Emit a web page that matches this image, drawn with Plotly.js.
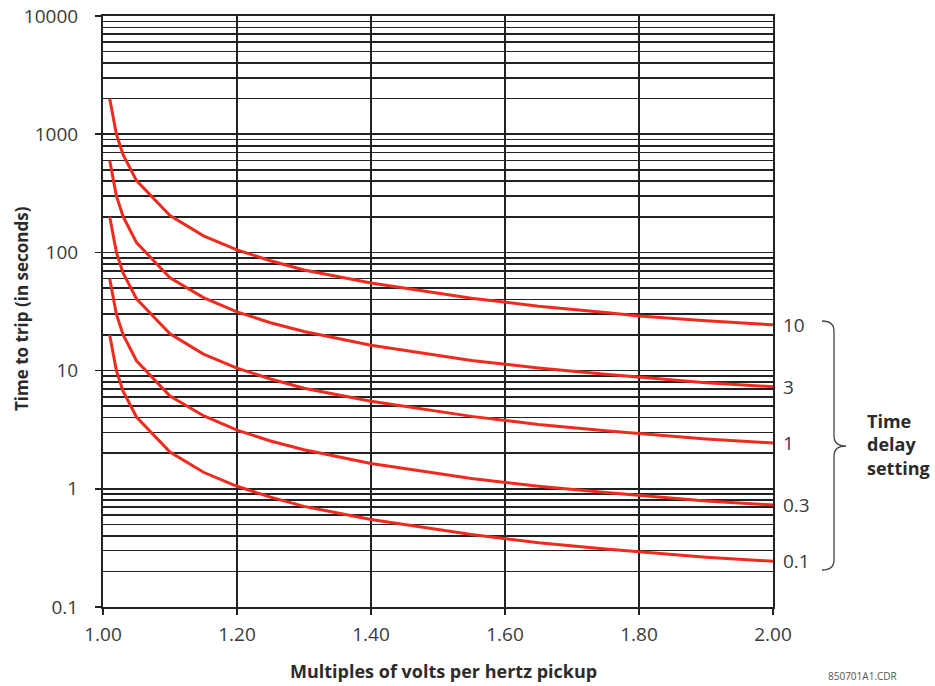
<!DOCTYPE html>
<html>
<head>
<meta charset="utf-8">
<script src="https://cdn.plot.ly/plotly-3.0.1.min.js"></script>
<style>html,body{margin:0;padding:0;background:#fff;}#chart{width:935px;height:686px;}</style>
</head>
<body>
<div id="chart"></div>
<script>
// ---- data ----
const multiples = [1.01, 1.02, 1.03, 1.05, 1.10, 1.15, 1.20, 1.25, 1.30, 1.40, 1.55, 1.60, 1.65, 1.75, 1.80, 1.90, 2.00];
const td10  = [2000, 1000, 670, 405, 205, 138, 105, 85, 71, 55, 41, 38, 35, 31, 29, 26.4, 24.4];
const td3   = [600, 300, 201, 121, 61, 41.5, 31.4, 25.4, 21.4, 16.4, 12.2, 11.3, 10.5, 9.3, 8.8, 7.9, 7.3];
const td1   = [200, 100, 67, 40.5, 20.5, 13.8, 10.5, 8.5, 7.1, 5.5, 4.1, 3.8, 3.5, 3.1, 2.93, 2.64, 2.44];
const td03  = [60, 30, 20.1, 12.1, 6.1, 4.15, 3.14, 2.54, 2.14, 1.64, 1.22, 1.13, 1.05, 0.93, 0.88, 0.79, 0.73];
const td01  = [20, 10, 6.7, 4.05, 2.05, 1.38, 1.05, 0.85, 0.71, 0.55, 0.41, 0.38, 0.35, 0.31, 0.293, 0.264, 0.244];
const seriesNames = ['10', '3', '1', '0.3', '0.1'];
const seriesValues = [td10, td3, td1, td03, td01];
const xTickVals = [1.00, 1.20, 1.40, 1.60, 1.80, 2.00];
const yTickVals = [0.1, 1, 10, 100, 1000, 10000];
const yTickLabels = ['0.1', '1', '10', '100', '1000', '10000'];
const xTitle = 'Multiples of volts per hertz pickup';
const yTitle = 'Time to trip (in seconds)';
const sideTitle = 'Time<br>delay<br>setting';
const figCode = '850701A1.CDR';

// ---- layout helpers ----
const W = 935, H = 686;
const M = {l: 103, r: 162, t: 16, b: 79};
const pw = W - M.l - M.r, ph = H - M.t - M.b;
const px = x => (x - M.l) / pw;
const py = y => (H - M.b - y) / ph;

// minor gridline positions (2..9 in each decade)
const minorVals = [];
for (let e = -1; e < 4; e++) for (let d = 2; d <= 9; d++) minorVals.push(d * Math.pow(10, e));

const red = '#ee2b1e';
const gridC = '#222222';
const tickFont = {family: 'Open Sans, sans-serif', size: 19, color: '#3a3a3a'};
const titleFont = {family: 'Open Sans, sans-serif', size: 18, color: '#2b2b2b', weight: 'bold'};

const traces = seriesValues.map((vals, i) => ({
  type: 'scatter', mode: 'lines', x: multiples, y: vals, name: seriesNames[i],
  line: {color: red, width: 3}, hoverinfo: 'skip', showlegend: false
}));

const annotations = seriesValues.map((vals, i) => ({
  x: multiples[multiples.length - 1], y: Math.log10(vals[vals.length - 1]),
  xref: 'x', yref: 'y', text: seriesNames[i], showarrow: false,
  xanchor: 'left', yanchor: 'middle', xshift: 8,
  font: tickFont
}));
annotations.push({
  x: px(865), y: py(444), xref: 'paper', yref: 'paper', text: sideTitle,
  showarrow: false, xanchor: 'left', yanchor: 'middle', align: 'left',
  font: titleFont
});
annotations.push({
  x: px(443), y: py(671), xref: 'paper', yref: 'paper', text: xTitle,
  showarrow: false, xanchor: 'center', yanchor: 'middle', font: titleFont
});
annotations.push({
  x: px(21), y: py(309), xref: 'paper', yref: 'paper', text: yTitle, textangle: -90,
  showarrow: false, xanchor: 'center', yanchor: 'middle',
  font: {family: 'Open Sans, sans-serif', size: 17, color: '#2b2b2b', weight: 'bold'}
});
annotations.push({
  x: px(826), y: py(685), xref: 'paper', yref: 'paper', text: figCode,
  showarrow: false, xanchor: 'left', yanchor: 'bottom',
  font: {family: 'Open Sans, sans-serif', size: 10, color: '#555'}
});

// brace path (pixel coords -> paper)
function P(x, y) { return px(x).toFixed(5) + ',' + py(y).toFixed(5); }
const bracePath = 'M' + P(822, 321) + ' Q' + P(834, 321) + ' ' + P(834, 331) +
  ' L' + P(834, 436) + ' Q' + P(834, 446) + ' ' + P(846, 446) +
  ' Q' + P(834, 446) + ' ' + P(834, 456) + ' L' + P(834, 560) +
  ' Q' + P(834, 570) + ' ' + P(822, 570);

const layout = {
  width: W, height: H, margin: M,
  paper_bgcolor: '#fff', plot_bgcolor: '#fff',
  showlegend: false,
  font: {family: 'Open Sans, sans-serif', color: '#333'},
  xaxis: {
    range: [1, 2], tickmode: 'array', tickvals: xTickVals, tickformat: '.2f',
    showgrid: true, gridcolor: gridC, gridwidth: 1.7,
    showline: true, linecolor: gridC, linewidth: 2, mirror: true,
    ticks: 'outside', ticklen: 6, tickcolor: gridC, tickwidth: 1.5,
    tickfont: tickFont, ticklabelstandoff: 3,
    zeroline: false
  },
  yaxis: {
    type: 'log', range: [-1, 4], tickmode: 'array', tickvals: yTickVals, ticktext: yTickLabels,
    showgrid: true, gridcolor: gridC, gridwidth: 1.7,
    minor: {tickmode: 'array', tickvals: minorVals, showgrid: true, gridcolor: gridC, gridwidth: 1.7, ticks: ''},
    showline: true, linecolor: gridC, linewidth: 2, mirror: true,
    ticks: 'outside', ticklen: 6, tickcolor: gridC, tickwidth: 1.5,
    tickfont: tickFont, ticklabelstandoff: 13,
    zeroline: false
  },
  shapes: [{type: 'path', xref: 'paper', yref: 'paper', path: bracePath,
            line: {color: '#444', width: 1.3}}],
  annotations: annotations
};

Plotly.newPlot('chart', traces, layout, {displayModeBar: false, staticPlot: true});
</script>
</body>
</html>
